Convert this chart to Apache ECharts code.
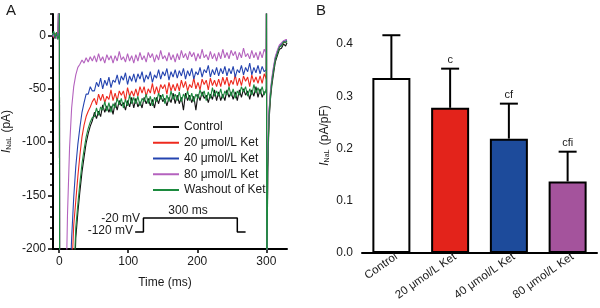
<!DOCTYPE html>
<html lang="en">
<head>
    <meta charset="UTF-8">
    <script src="https://cdn.jsdelivr.net/npm/echarts@6/dist/echarts.min.js"></script>
    <title>INaL</title>
</head>
<style>
    body{
        margin: 0;
        padding: 0;
        background: #fff;
    }
</style>
<body>
<div id="chart" style="width: 600px;height:308px;"></div>
</body>
<script>
    // panel A: late sodium current traces (pA) against time (ms)
    var timeMs = [-10, -8, -6, -4, -2, 0, 0.3, 0.6,
        3, 6, 9, 12, 15, 18, 21, 24, 27, 30, 33, 36, 39, 42, 45, 48, 51, 54, 57, 60,
        63, 66, 69, 72, 75, 78, 81, 84, 87, 90, 93, 96, 99, 102, 105, 108, 111, 114, 117, 120,
        123, 126, 129, 132, 135, 138, 141, 144, 147, 150, 153, 156, 159, 162, 165, 168, 171, 174, 177, 180,
        183, 186, 189, 192, 195, 198, 201, 204, 207, 210, 213, 216, 219, 222, 225, 228, 231, 234, 237, 240,
        243, 246, 249, 252, 255, 258, 261, 264, 267, 270, 273, 276, 279, 282, 285, 288, 291, 294, 297,
        300, 300.3, 300.6, 302, 304, 306, 308, 310, 313, 316, 319, 322, 325, 328, 330];

    var control = [-2, 1, -3, 2, -1, 0, 60, -300,
        -300, -300, -300, -300, -300, -300, -255, -190, -166, -146, -128, -114, -101, -92, -85, -80, -72, -78, -71, -76,
        -65, -72, -66, -72, -66, -74, -63, -70, -61, -66, -63, -70, -61, -67, -58, -68, -59, -67, -62, -68,
        -58, -64, -59, -66, -60, -68, -58, -64, -56, -62, -59, -66, -58, -63, -54, -64, -56, -64, -58, -70,
        -54, -61, -56, -63, -57, -70, -55, -61, -53, -59, -56, -63, -55, -60, -51, -61, -53, -61, -55, -61,
        -51, -58, -53, -60, -53, -61, -51, -58, -50, -56, -52, -60, -51, -57, -48, -58, -50, -58, -53,
        -53, 60, -300, -128, -80, -60, -47, -38, -25, -19, -13, -12, -8, -10, -7];

    var ket20 = [1, -2, 2, -1, 3, 0, 60, -300,
        -300, -300, -300, -300, -300, -225, -178, -155, -132, -112, -95, -84, -76, -71, -67, -62, -59, -65, -55, -61,
        -55, -63, -57, -60, -51, -61, -54, -61, -52, -56, -52, -61, -49, -57, -52, -57, -50, -57, -48, -54,
        -48, -57, -50, -54, -45, -55, -48, -55, -46, -50, -46, -55, -44, -52, -46, -52, -45, -52, -42, -49,
        -43, -52, -46, -49, -40, -50, -44, -51, -41, -46, -42, -51, -40, -47, -42, -48, -41, -48, -39, -46,
        -39, -48, -42, -46, -37, -47, -40, -47, -38, -43, -39, -48, -37, -44, -39, -45, -38, -45, -36,
        -41, 60, -300, -120, -74, -55, -43, -34, -22, -16, -11, -9, -7, -6, -6];

    var ket40 = [-1, 3, -2, 0, 2, 0, 60, -300,
        -300, -300, -300, -300, -240, -190, -152, -123, -102, -86, -72, -63, -55, -55, -48, -52, -52, -44, -48, -40,
        -50, -42, -47, -39, -49, -42, -44, -37, -46, -38, -42, -35, -46, -38, -43, -36, -44, -36, -41, -34,
        -44, -37, -41, -34, -44, -37, -40, -32, -41, -34, -38, -31, -42, -34, -39, -32, -40, -33, -38, -31,
        -41, -33, -38, -31, -41, -34, -37, -30, -39, -32, -35, -28, -39, -32, -37, -30, -38, -31, -36, -29,
        -38, -31, -36, -29, -39, -32, -35, -28, -37, -30, -34, -26, -37, -30, -35, -28, -36, -29, -34,
        -32, 60, -300, -118, -72, -54, -42, -33, -21, -15, -10, -8, -6, -5, -5];

    var ket80 = [2, -1, 1, -3, 0, 0, 60, -300,
        -300, -300, -270, -168, -105, -68, -48, -37, -30, -27, -23, -26, -21, -25, -20, -24, -19, -25, -17, -24,
        -20, -26, -18, -23, -19, -26, -19, -24, -15, -23, -20, -25, -17, -24, -19, -26, -18, -24, -16, -23,
        -19, -25, -16, -21, -17, -25, -18, -23, -14, -22, -19, -24, -16, -23, -18, -25, -17, -23, -14, -21,
        -17, -23, -15, -20, -16, -24, -17, -22, -13, -21, -18, -23, -15, -22, -17, -24, -16, -22, -13, -21,
        -16, -22, -14, -19, -15, -23, -16, -21, -12, -20, -17, -22, -14, -21, -16, -23, -15, -21, -13,
        -17, 60, -300, -115, -70, -52, -40, -31, -20, -14, -9, -7, -5, -4, -4];

    var washout = [0, 4, -2, 3, -4, 1, 60, -300,
        -300, -300, -300, -300, -300, -300, -230, -180, -158, -138, -120, -107, -95, -87, -81, -77, -76, -68, -75, -67,
        -70, -62, -71, -63, -72, -64, -68, -59, -65, -59, -68, -60, -66, -56, -64, -58, -64, -57, -66, -59,
        -62, -55, -64, -57, -66, -58, -62, -54, -60, -55, -64, -56, -62, -52, -60, -55, -61, -53, -62, -55,
        -59, -52, -61, -54, -62, -55, -59, -51, -57, -52, -61, -53, -59, -49, -57, -52, -57, -50, -59, -52,
        -56, -48, -57, -50, -59, -52, -56, -48, -53, -48, -57, -50, -56, -46, -54, -49, -55, -48, -56,
        -50, 60, -300, -124, -76, -57, -44, -35, -23, -17, -11, -10, -6, -7, -5];

    var traceNames = ['Control', '20 \u03bcmol/L Ket', '40 \u03bcmol/L Ket', '80 \u03bcmol/L Ket', 'Washout of Ket'];
    var traceValues = [control, ket20, ket40, ket80, washout];
    var traceColors = ['#111111', '#ee2a1e', '#2444b0', '#b462be', '#1c8a3e'];

    // voltage protocol inset, drawn in the data space of panel A
    var protocolT = [110, 122, 122, 258, 258, 270];
    var protocolY = [-184, -184, -171, -171, -184, -184];

    var xTicksA = [0, 100, 200, 300];
    var yTicksA = [-200, -150, -100, -50, 0];

    // panel B: current density (pA/pF)
    var groups = ['Control', '20 \u03bcmol/L Ket', '40 \u03bcmol/L Ket', '80 \u03bcmol/L Ket'];
    var density = [0.335, 0.278, 0.219, 0.137];
    var densityErr = [0.082, 0.075, 0.067, 0.057];
    var marks = ['', 'c', 'cf', 'cfi'];
    var barColors = ['#ffffff', '#e3231b', '#1d4b9b', '#a4539c'];
    var yTicksB = [0, 0.1, 0.2, 0.3, 0.4];

    var font = 'Liberation Sans, Arial, sans-serif';
    var ink = '#1a1a1a';

    var series = [];
    for (var s = 0; s < traceNames.length; s++) {
        var pts = [];
        for (var i = 0; i < timeMs.length; i++) {
            pts.push([timeMs[i], traceValues[s][i]]);
        }
        series.push({
            name: traceNames[s],
            type: 'line',
            xAxisIndex: 0,
            yAxisIndex: 0,
            data: pts,
            symbol: 'none',
            clip: true,
            lineStyle: {color: traceColors[s], width: 1.1},
            itemStyle: {color: traceColors[s]},
            z: 2 + s
        });
    }

    var protoPts = [];
    for (var k = 0; k < protocolT.length; k++) protoPts.push([protocolT[k], protocolY[k]]);
    series.push({
        name: 'protocol',
        type: 'line',
        xAxisIndex: 0,
        yAxisIndex: 0,
        data: protoPts,
        symbol: 'none',
        lineStyle: {color: '#000', width: 1.5},
        z: 10
    });

    series.push({
        name: 'density',
        type: 'bar',
        xAxisIndex: 1,
        yAxisIndex: 2,
        barWidth: 38,
        data: density.map(function (v, i) {
            return {value: v, itemStyle: {color: barColors[i], borderColor: '#000', borderWidth: 2}};
        })
    });

    series.push({
        name: 'error',
        type: 'custom',
        xAxisIndex: 1,
        yAxisIndex: 2,
        z: 5,
        data: density.map(function (v, i) {
            return [i, v, v + densityErr[i]];
        }),
        renderItem: function (params, api) {
            var x = api.value(0);
            var base = api.coord([x, api.value(1)]);
            var top = api.coord([x, api.value(2)]);
            var half = 9;
            return {
                type: 'group',
                children: [
                    {type: 'line', shape: {x1: base[0], y1: base[1], x2: top[0], y2: top[1]},
                        style: {stroke: '#000', lineWidth: 2}},
                    {type: 'line', shape: {x1: top[0] - half, y1: top[1], x2: top[0] + half, y2: top[1]},
                        style: {stroke: '#000', lineWidth: 2}},
                    {type: 'text', x: top[0], y: top[1] - 3,
                        style: {text: marks[params.dataIndex], textAlign: 'center', textVerticalAlign: 'bottom',
                            fontSize: 11, fontFamily: font, fill: ink}}
                ]
            };
        }
    });

    var nameRich = {
        i: {fontStyle: 'italic', fontSize: 12, fontFamily: font, color: ink},
        sub: {fontSize: 7, fontFamily: font, color: ink, verticalAlign: 'bottom', padding: [5, 1, 0, 0]},
        n: {fontSize: 12, fontFamily: font, color: ink}
    };

    var chart = echarts.init(document.getElementById('chart'), null, {renderer: 'canvas'});
    var option = {
        animation: false,
        backgroundColor: '#fff',
        textStyle: {fontFamily: font},
        legend: {
            data: traceNames,
            orient: 'vertical',
            left: 148,
            top: 115,
            icon: 'rect',
            itemWidth: 26,
            itemHeight: 2,
            itemGap: 1.75,
            textStyle: {fontSize: 12, color: ink, lineHeight: 14, fontFamily: font}
        },
        grid: [
            {left: 53, top: 14, width: 234, height: 235},
            {left: 362, top: 18, width: 235, height: 235}
        ],
        xAxis: [
            {
                gridIndex: 0, type: 'value', min: -9, max: 330,
                axisLine: {onZero: false, lineStyle: {color: '#000', width: 2}},
                axisTick: {customValues: xTicksA, length: 4, lineStyle: {color: '#000', width: 1.5}},
                axisLabel: {customValues: xTicksA, fontSize: 12, color: ink, margin: 7},
                splitLine: {show: false},
                name: 'Time (ms)', nameLocation: 'middle', nameGap: 28,
                nameTextStyle: {fontSize: 12, color: ink, padding: [0, 10, 0, 0]}
            },
            {
                gridIndex: 1, type: 'category', data: groups,
                axisLine: {onZero: false, lineStyle: {color: '#000', width: 2}},
                axisTick: {show: false},
                axisLabel: {rotate: 35, fontSize: 11.5, color: ink, margin: 6, interval: 0,
                    padding: [0, -6, 0, 0]}
            }
        ],
        yAxis: [
            {
                gridIndex: 0, type: 'value', position: 'left', min: -200, max: 20, interval: 10,
                axisLine: {onZero: false, lineStyle: {color: '#000', width: 2}},
                axisTick: {length: 3, lineStyle: {color: '#000', width: 1.5}},
                axisLabel: {show: false},
                splitLine: {show: false}
            },
            {
                gridIndex: 0, type: 'value', position: 'left', min: -200, max: 20,
                axisLine: {show: false, onZero: false},
                axisTick: {customValues: yTicksA, length: 5, lineStyle: {color: '#000', width: 1.5}},
                axisLabel: {customValues: yTicksA, fontSize: 12, color: ink, margin: 7},
                splitLine: {show: false},
                name: '{i|I}{sub|NaL}{n| (pA)}', nameLocation: 'middle', nameGap: 40, nameRotate: 90,
                nameTextStyle: {rich: nameRich}
            },
            {
                gridIndex: 1, type: 'value', position: 'left', min: 0, max: 0.45, interval: 0.05,
                axisLine: {onZero: false, lineStyle: {color: '#000', width: 2}},
                axisTick: {length: 3, lineStyle: {color: '#000', width: 1.5}},
                axisLabel: {show: false},
                splitLine: {show: false}
            },
            {
                gridIndex: 1, type: 'value', position: 'left', min: 0, max: 0.45,
                axisLine: {show: false, onZero: false},
                axisTick: {customValues: yTicksB, length: 5, lineStyle: {color: '#000', width: 1.5}},
                axisLabel: {customValues: yTicksB, fontSize: 12, color: ink, margin: 9,
                    formatter: function (v) { return v.toFixed(1); }},
                splitLine: {show: false},
                name: '{i|I}{sub|NaL}{n| (pA/pF)}', nameLocation: 'middle', nameGap: 31, nameRotate: 90,
                nameTextStyle: {rich: nameRich}
            }
        ],
        graphic: [
            {type: 'text', left: 6, top: 3, style: {text: 'A', fontSize: 15, fontFamily: font, fill: ink}},
            {type: 'text', left: 316, top: 3, style: {text: 'B', fontSize: 15, fontFamily: font, fill: ink}},
            {type: 'text', x: 140, y: 219, style: {text: '-20 mV', fontSize: 12, fontFamily: font, fill: ink,
                textAlign: 'right', textVerticalAlign: 'middle'}},
            {type: 'text', x: 133, y: 231, style: {text: '-120 mV', fontSize: 12, fontFamily: font, fill: ink,
                textAlign: 'right', textVerticalAlign: 'middle'}},
            {type: 'text', x: 188, y: 211, style: {text: '300 ms', fontSize: 12, fontFamily: font, fill: ink,
                textAlign: 'center', textVerticalAlign: 'middle'}}
        ],
        series: series
    };
    chart.setOption(option);
</script>
</html>
